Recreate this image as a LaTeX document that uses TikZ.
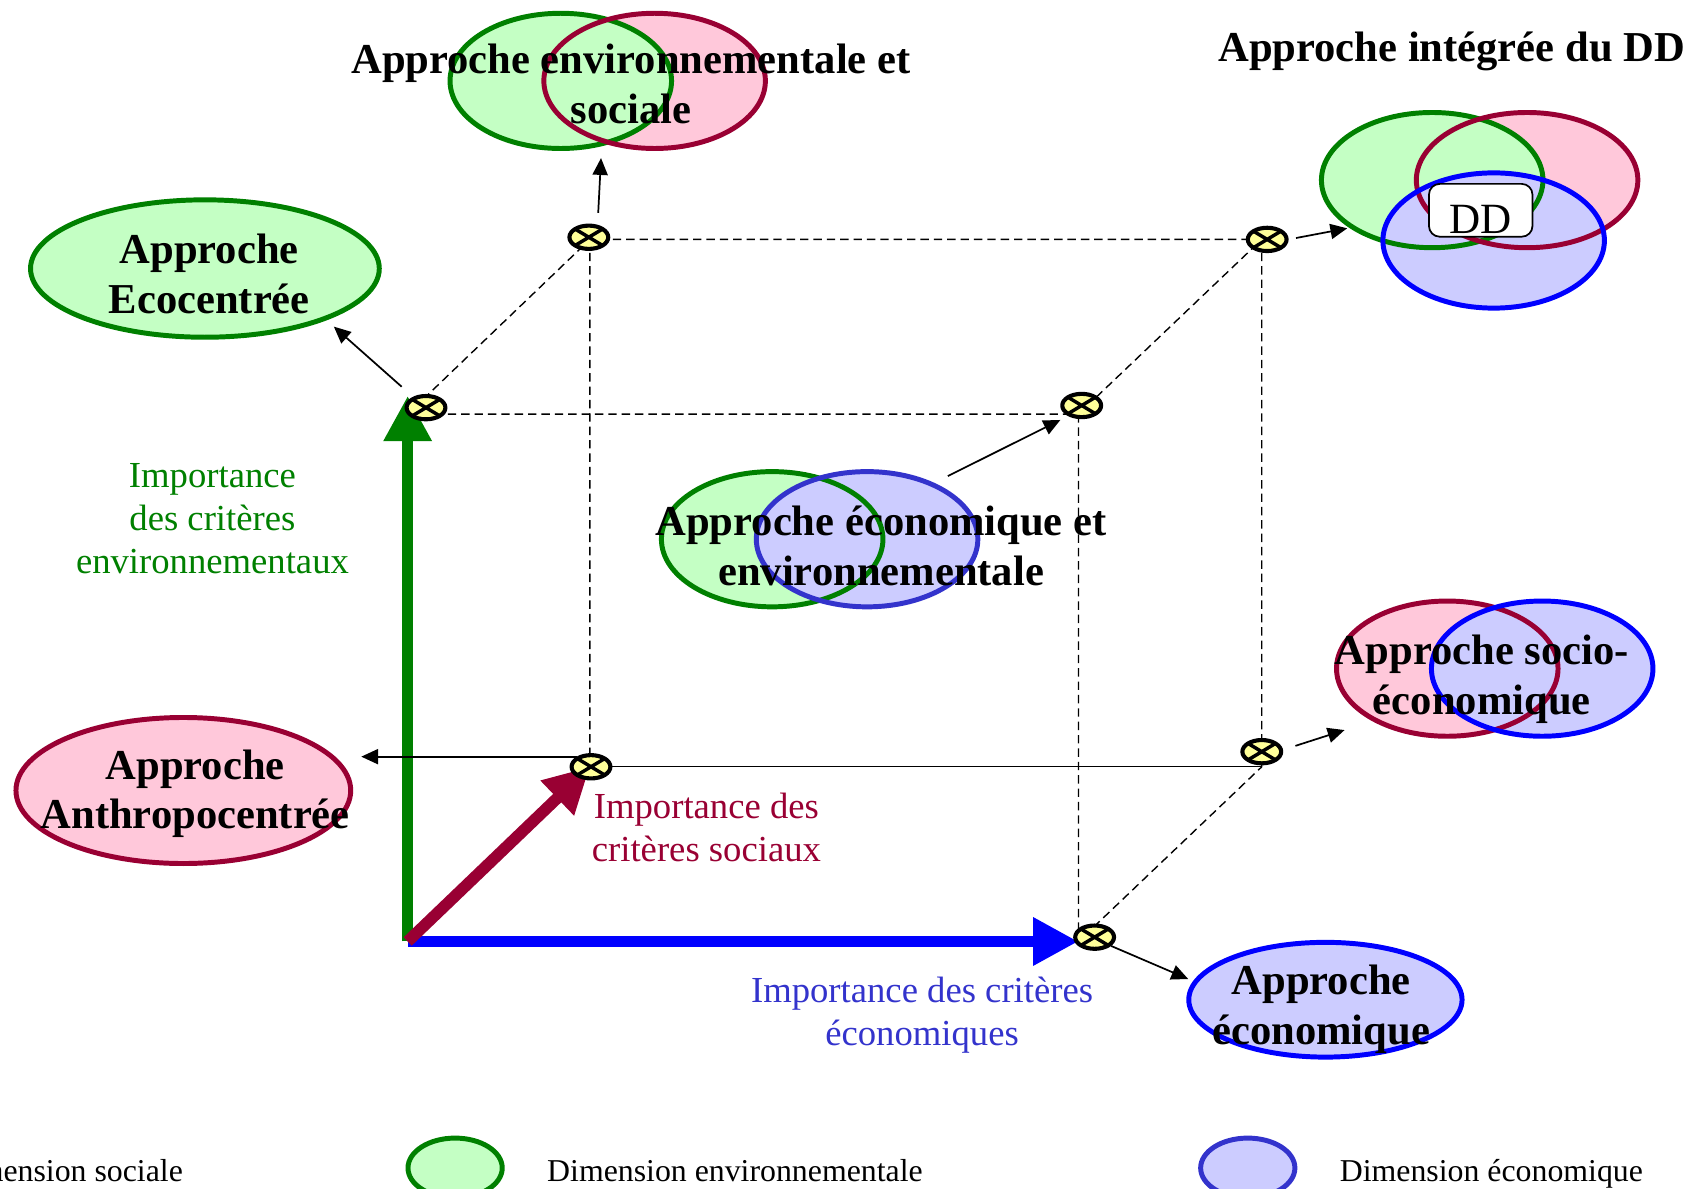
\documentclass[tikz,border=0pt]{standalone}
\usepackage{fontspec}
\setmainfont{Liberation Serif}
\usetikzlibrary{shapes.geometric,arrows.meta}
\definecolor{envgreen}{RGB}{0,128,0}
\definecolor{envfill}{RGB}{196,255,196}
\definecolor{socred}{RGB}{153,0,51}
\definecolor{socfill}{RGB}{255,200,218}
\definecolor{ecoblue}{RGB}{0,0,255}
\definecolor{ecoblueb}{RGB}{51,51,204}
\definecolor{ecofill}{RGB}{204,204,255}
\definecolor{markfill}{RGB}{255,255,153}
\newcommand{\approchefont}{\fontsize{19.75}{23}\selectfont\bfseries}
\newcommand{\critfont}{\fontsize{17}{20}\selectfont}
\newcommand{\legfont}{\fontsize{14.75}{17}\selectfont}
\tikzset{
  venn/.style={ellipse, line width=2.3pt, minimum width=102.7pt, minimum height=62.7pt, inner sep=0pt},
  single/.style={ellipse, line width=2.3pt, inner sep=0pt},
  crossmark/.style={ellipse, draw, line width=1.9pt, fill=markfill, minimum width=18pt, minimum height=10.8pt, inner sep=0pt,
    path picture={\draw[line width=1.6pt] (path picture bounding box.north west) -- (path picture bounding box.south east)
      (path picture bounding box.south west) -- (path picture bounding box.north east);}},
  conn/.style={-{Triangle[length=7.8pt,width=7pt]}, line width=0.8pt},
  axis/.style={-{Triangle[length=21pt,width=21pt]}, line width=5.4pt},
  cubeedge/.style={dash pattern=on 3.9pt off 2.3pt, line width=0.65pt},
  approche/.style={font=\approchefont, align=center, inner sep=0pt},
  crit/.style={font=\critfont, align=center, inner sep=0pt},
  legend/.style={font=\legfont, inner sep=0pt}
}
\begin{document}
\begin{tikzpicture}[x=0.5pt, y=-0.5pt, line join=round]
\useasboundingbox (0,0) rectangle (1568,1102);
% ensembles : remplissages d'abord, contours ensuite
\foreach \x/\y/\c in {607/75/socfill, 1416/167/socfill, 1342/620/socfill, 520/75/envfill, 1328/167/envfill, 716/500/envfill, 1385/223/ecofill, 804/500/ecofill, 1430/620/ecofill}
  \fill[\c] (\x,\y) ellipse [x radius=51.35pt, y radius=31.35pt];
\node[venn, draw=envgreen] (topE) at (520,75) {};
\node[venn, draw=socred] (topS) at (607,75) {};
\node[venn, draw=envgreen] (ddE) at (1328,167) {};
\node[venn, draw=socred] (ddS) at (1416,167) {};
\node[venn, draw=ecoblue] (ddB) at (1385,223) {};
\node[venn, draw=envgreen] (eeE) at (716,500) {};
\node[venn, draw=ecoblueb] (eeB) at (804,500) {};
\node[venn, draw=socred] (seS) at (1342,620) {};
\node[venn, draw=ecoblue] (seB) at (1430,620) {};
\node[draw, fill=white, rounded corners=5pt, line width=0.8pt, minimum width=48pt, text height=21.5pt, text depth=0pt, inner sep=1.5pt, font=\fontsize{20}{24}\selectfont] (dd) at (1373,195) {DD};
\node[single, draw=envgreen, fill=envfill, minimum width=161.7pt, minimum height=63.7pt] (eco) at (190,249) {};
\node[single, draw=socred, fill=socfill, minimum width=155.2pt, minimum height=67.7pt] (anthro) at (170,733) {};
\node[single, draw=ecoblue, fill=ecofill, minimum width=126.7pt, minimum height=53.2pt] (econ) at (1229,927) {};
% textes des approches
\node[approche] (topT) at (585,78) {Approche environnementale et\\sociale};
\node[approche] (ddT) at (1346,48) {Approche intégrée du DD};
\node[approche] (eeT) at (817,506) {Approche économique et\\environnementale};
\node[approche] (seT) at (1374,630) {Approche socio-\\économique};
\node[approche] (ecoT) at (194,254) {Approche\\Ecocentrée};
\node[approche] (anthroT) at (181,736) {Approche\\Anthropocentrée};
\node[approche] (econT) at (1225,936) {Approche\\économique};
% cube
\coordinate (O) at (378,873);
\coordinate (X) at (1000,873);
\coordinate (Z) at (378,384);
\coordinate (XZ) at (1000,384);
\coordinate (Y) at (547,711);
\coordinate (XY) at (1170,711);
\coordinate (YZ) at (547,222);
\coordinate (XYZ) at (1170,222);
\draw[cubeedge] (Z) -- (XZ) -- (XYZ) -- (YZ) -- cycle;
\draw[cubeedge] (YZ) -- (Y) (XYZ) -- (XY) (XZ) -- (X) -- (XY);
\draw[line width=0.65pt] (Y) -- (XY);
% axes
\draw[axis, envgreen] (O) -- ([yshift=8.5pt]Z);
\draw[axis, ecoblue] (O) -- (X);
\draw[axis, socred] (O) -- (Y);
\node[crossmark] (ftl) at (395,378) {};
\node[crossmark] (btl) at (546,220) {};
\node[crossmark] (btr) at (1175,222) {};
\node[crossmark] (ftr) at (1003,376) {};
\node[crossmark] (bbl) at (548,711) {};
\node[crossmark] (bbr) at (1170,697) {};
\node[crossmark] (fbr) at (1015,869) {};
% fleches
\draw[conn, shorten <=7pt, shorten >=4.5pt] (ftl.140) -- (eco.-23);
\draw[conn, shorten <=5.5pt, shorten >=5.5pt] (btl.55) -- (topE.-58);
\draw[conn, shorten <=3.5pt, shorten >=1pt] (btr.east) -- (ddE.210);
\draw[conn, shorten <=7pt, shorten >=4pt] (eeB.40) -- (ftr.218);
\draw[conn, shorten >=3.75pt] (bbl.145) -- (bbl.145 -| anthro.east);
\draw[conn, shorten <=6pt, shorten >=13.5pt] (bbr.5) -- (seS.215);
\draw[conn, shorten >=2.5pt] (fbr.-28) -- (econ.172);
% criteres
\node[crit, text=envgreen] (critE) at (197,481) {Importance\\des critères\\environnementaux};
\node[crit, text=socred] (critS) at (655,767) {Importance des\\critères sociaux};
\node[crit, text=ecoblueb] (critB) at (855,941) {Importance des critères\\économiques};
% legende
\node[single, draw=envgreen, fill=envfill, minimum width=43.7pt, minimum height=27.7pt] (legE) at (422,1083) {};
\node[single, draw=ecoblueb, fill=ecofill, minimum width=43.7pt, minimum height=27.7pt] (legB) at (1157,1083) {};
\node[legend, anchor=east] (legSt) at (170,1085) {Dimension sociale};
\node[legend, anchor=west] (legEt) at (507,1085) {Dimension environnementale};
\node[legend, anchor=west] (legBt) at (1242,1088) {Dimension économique};
\end{tikzpicture}
\end{document}
